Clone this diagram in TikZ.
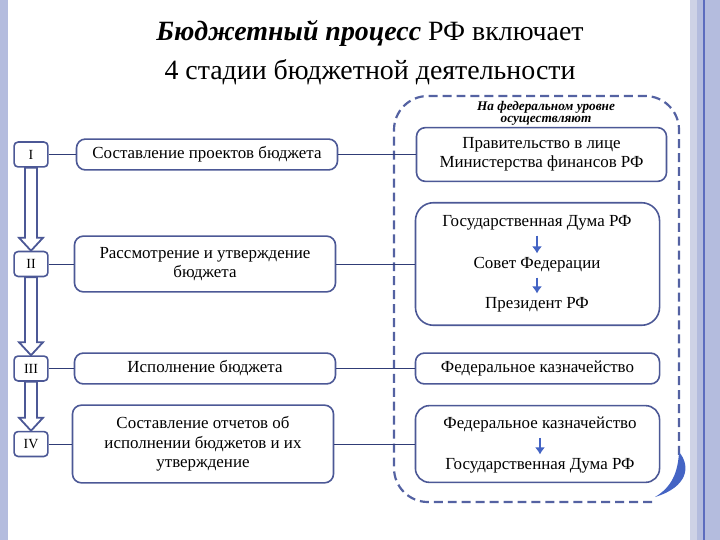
\documentclass[tikz,border=0pt]{standalone}
\usepackage{fontspec}
\setmainfont{Liberation Serif}
\usetikzlibrary{arrows.meta,calc}
\definecolor{frameblue}{RGB}{76,88,150}
\definecolor{dashblue}{RGB}{84,98,162}
\definecolor{lineblue}{RGB}{48,60,118}
\definecolor{arrowblue}{RGB}{68,100,196}
\definecolor{band}{RGB}{180,188,222}
\definecolor{bandlight}{RGB}{206,210,230}
\definecolor{bandline}{RGB}{92,108,190}

%% hollow block arrow between two stage boxes
\newcommand{\stagearrow}[2]{%
  \draw[stagearr] ($(#1.south)+(-6,0)$) -- ($(#2.north)+(-6,-13)$)
    -- ($(#2.north)+(-12,-13)$) -- (#2.north) -- ($(#2.north)+(12,-13)$)
    -- ($(#2.north)+(6,-13)$) -- ($(#1.south)+(6,0)$) -- cycle;}

\begin{document}
\begin{tikzpicture}[x=1bp,y=-1bp,
  stagebox/.style={draw=frameblue, line width=1.6, rounded corners=4, fill=white,
    minimum width=34, minimum height=25, inner sep=0, font=\fontsize{14}{14}\selectfont},
  taskbox/.style={draw=frameblue, line width=1.6, rounded corners=9, fill=white,
    minimum width=262, align=center, inner sep=2, font=\fontsize{17}{19.5}\selectfont},
  bodybox/.style={draw=frameblue, line width=1.6, rounded corners=9, fill=white,
    minimum width=245, align=center, inner sep=2, font=\fontsize{17}{19.5}\selectfont},
  txt/.style={inner sep=2, font=\fontsize{17}{19.5}\selectfont},
  stagearr/.style={draw=frameblue, line width=1.8, fill=white},
  link/.style={draw=lineblue, line width=0.9},
  down/.style={draw=arrowblue, line width=2.6, -{Latex[length=7,width=10]},
    shorten <=3, shorten >=2},
  fedframe/.style={draw=dashblue, line width=2.2, dash pattern=on 9 off 5}]

  %% Background and slide bands
  \fill[white] (0,0) rectangle (720,540);
  \useasboundingbox (0,0) rectangle (720,540);
  \fill[band] (0,0) rectangle (8,540);
  \fill[bandlight] (690,0) rectangle (697,540);
  \fill[band] (697,0) rectangle (720,540);
  \draw[bandline, line width=1.2] (704,0) -- (704,540);

  %% Title
  \node[font=\fontsize{28}{30}\selectfont] (title1) at (370,33)
    {\textbf{\textit{Бюджетный процесс}} РФ включает};
  \node[font=\fontsize{28}{30}\selectfont] (title2) at (370,72)
    {4 стадии бюджетной деятельности};

  %% Federal level frame
  \draw[fedframe, rounded corners=34]
    (652,502) -- (394,502) -- (394,96) -- (679,96) -- (679,455);
  \fill[arrowblue]
    (679,452) .. controls (691,466) and (688,487) .. (655,497)
    .. controls (672,487) and (678,472) .. (679,452) -- cycle;
  \node[font=\fontsize{13.3}{14}\selectfont\bfseries\itshape] (fed1) at (546,107)
    {На федеральном уровне};
  \node[font=\fontsize{13.3}{14}\selectfont\bfseries\itshape] (fed2) at (546,121)
    {осуществляют};

  %% Stages
  \node[stagebox] (s1) at (31,154.5) {I};
  \node[stagebox] (s2) at (31,264) {II};
  \node[stagebox] (s3) at (31,368.5) {III};
  \node[stagebox] (s4) at (31,444) {IV};

  \stagearrow{s1}{s2}
  \stagearrow{s2}{s3}
  \stagearrow{s3}{s4}

  %% What is done at each stage
  \node[taskbox, minimum height=31] (t1) at (207,154.5)
    {Составление проектов бюджета};
  \node[taskbox, minimum height=56] (t2) at (205,264)
    {Рассмотрение и утверждение\\бюджета};
  \node[taskbox, minimum height=31] (t3) at (205,368.5)
    {Исполнение бюджета};
  \node[taskbox, minimum height=78] (t4) at (203,444)
    {Составление отчетов об\\исполнении бюджетов и их\\утверждение};

  %% Who does it
  \node[bodybox, minimum width=251, minimum height=54] (r1) at (541.5,154.5)
    {Правительство в лице\\Министерства финансов РФ};
  \node[bodybox, rounded corners=18, minimum height=123] (r2) at (537.5,264) {};
  \node[bodybox, minimum height=31] (r3) at (537.5,368.5)
    {Федеральное казначейство};
  \node[bodybox, rounded corners=14, minimum height=77] (r4) at (537.5,444) {};

  \node[txt] (duma) at (537,223) {Государственная Дума РФ};
  \node[txt] (sovet) at (537,265) {Совет Федерации};
  \node[txt] (prez) at (537,305) {Президент РФ};
  \draw[down] (duma) -- (sovet);
  \draw[down] (sovet) -- (prez);

  \node[txt] (kazna) at (540,425) {Федеральное казначейство};
  \node[txt] (duma2) at (540,466) {Государственная Дума РФ};
  \draw[down] (kazna) -- (duma2);

  %% Links
  \foreach \i in {1,2,3,4}{
    \draw[link] (s\i.east) -- (t\i.west);
    \draw[link] (t\i.east) -- (r\i.west);
  }
\end{tikzpicture}
\end{document}
